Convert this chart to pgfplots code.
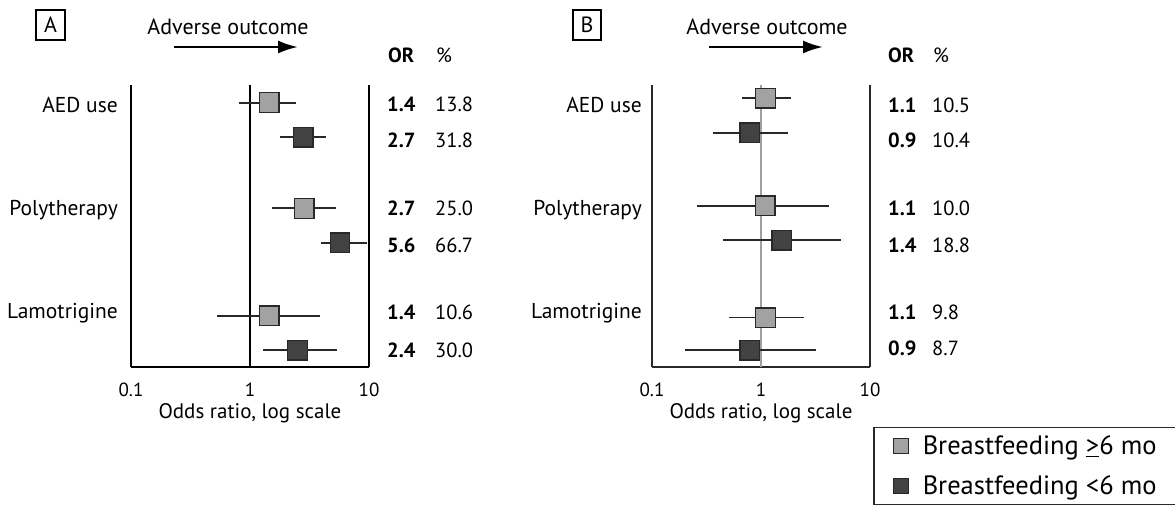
\documentclass[border=0pt]{standalone}
\usepackage{pgfplots}
\pgfplotsset{compat=1.18}
\usepackage{pgfplotstable}
\usepackage{fontspec}
\setmainfont{PT Sans}
\usetikzlibrary{arrows.meta}
\definecolor{lightsq}{RGB}{162,162,162}
\definecolor{darksq}{RGB}{66,66,66}
\definecolor{edge}{RGB}{40,40,40}

% Panel A: row position, odds ratio, lower and upper CI
\pgfplotstableread{
y      or    lo    hi
0      1.45  0.81  2.44
-3.0   2.85  1.53  5.3
-6.05  1.45  0.53  3.87
}\Alight
\pgfplotstableread{
y      or    lo    hi
-0.98  2.8   1.79  4.35
-3.98  5.7   3.96  9.6
-7.02  2.5   1.29  5.4
}\Adark
% Panel B
\pgfplotstableread{
y      or    lo    hi
0.13   1.1   0.67  1.88
-2.93  1.09  0.26  4.2
-6.1   1.1   0.51  2.48
}\Blight
\pgfplotstableread{
y      or    lo    hi
-0.86  0.79  0.36  1.77
-3.9   1.55  0.45  5.4
-7.02  0.79  0.20  3.2
}\Bdark

\begin{document}
\begin{tikzpicture}
\useasboundingbox (0pt,0pt) rectangle (1175pt,-517pt);

% ---------------- Panel A ----------------
\begin{axis}[scale only axis, width=238pt, height=282pt, at={(131pt,-367pt)}, anchor=south west,
    xmode=log, xmin=0.1, xmax=10, ymin=-7.5, ymax=0.5,
    axis x line*=bottom, axis y line=none,
    xtick={0.1,1,10}, xticklabels={0.1,1,10}, xminorticks=false,
    ytick=\empty, major tick length=0pt,
    /pgf/number format/assume math mode=true,
    xticklabel style={font=\fontsize{19}{22}\selectfont, anchor=center, yshift=-23pt},
    xlabel={Odds ratio, log scale},
    xlabel style={font=\fontsize{21}{24}\selectfont, at={(axis description cs:0.5,-0.163)}, anchor=center},
    clip=false,
    x axis line style={line width=2.2pt, black}]
\draw[line width=2.2pt, black] (rel axis cs:0,0) -- (rel axis cs:0,1);
\draw[line width=2.2pt, black] (rel axis cs:1,0) -- (rel axis cs:1,1);
\draw[line width=2pt, black] (axis cs:1,-7.5) -- (axis cs:1,0.5);
\addplot[only marks, mark=none, forget plot, error bars/x dir=both, error bars/x explicit, error bars/error mark=none, error bars/error bar style={line width=1.9pt, draw=edge, solid}]
  table[x=or, y=y, x error plus expr=\thisrow{hi}-\thisrow{or}, x error minus expr=\thisrow{or}-\thisrow{lo}] {\Alight};
\addplot[only marks, mark=none, forget plot, error bars/x dir=both, error bars/x explicit, error bars/error mark=none, error bars/error bar style={line width=1.9pt, draw=edge, solid}]
  table[x=or, y=y, x error plus expr=\thisrow{hi}-\thisrow{or}, x error minus expr=\thisrow{or}-\thisrow{lo}] {\Adark};
\addplot[only marks, mark=square*, mark size=9.8pt, draw=edge, line width=1.3pt, fill=lightsq] table[x=or, y=y] {\Alight};
\addplot[only marks, mark=square*, mark size=9.8pt, draw=edge, line width=1.3pt, fill=darksq] table[x=or, y=y] {\Adark};
\end{axis}

% ---------------- Panel B ----------------
\begin{axis}[scale only axis, width=218pt, height=282pt, at={(652pt,-367pt)}, anchor=south west,
    xmode=log, xmin=0.1, xmax=10, ymin=-7.5, ymax=0.5,
    axis x line*=bottom, axis y line=none,
    xtick={0.1,1,10}, xticklabels={0.1,1,10}, xminorticks=false,
    ytick=\empty, major tick length=0pt,
    /pgf/number format/assume math mode=true,
    xticklabel style={font=\fontsize{19}{22}\selectfont, anchor=center, yshift=-23pt},
    xlabel={Odds ratio, log scale},
    xlabel style={font=\fontsize{21}{24}\selectfont, at={(axis description cs:0.5,-0.163)}, anchor=center},
    clip=false,
    x axis line style={line width=2pt, edge},
    legend style={at={(1.0138,-0.2127)}, anchor=north west, draw=edge, line width=1.5pt,
      font=\fontsize{26.5}{29}\selectfont, cells={anchor=west}, inner xsep=20pt, inner ysep=6pt, row sep=16pt,
      /tikz/column 1/.style={column sep=12pt}},
    every legend image post/.style={mark size=7.5pt, line width=1.3pt}]
\draw[line width=2pt, edge] (rel axis cs:0,0) -- (rel axis cs:0,1);
\draw[line width=2pt, edge] (rel axis cs:1,0) -- (rel axis cs:1,1);
\draw[line width=1.4pt, gray!75] (axis cs:1,-7.5) -- (axis cs:1,0.5);
\addplot[only marks, mark=none, forget plot, error bars/x dir=both, error bars/x explicit, error bars/error mark=none, error bars/error bar style={line width=1.6pt, draw=edge, solid}]
  table[x=or, y=y, x error plus expr=\thisrow{hi}-\thisrow{or}, x error minus expr=\thisrow{or}-\thisrow{lo}] {\Blight};
\addplot[only marks, mark=none, forget plot, error bars/x dir=both, error bars/x explicit, error bars/error mark=none, error bars/error bar style={line width=1.6pt, draw=edge, solid}]
  table[x=or, y=y, x error plus expr=\thisrow{hi}-\thisrow{or}, x error minus expr=\thisrow{or}-\thisrow{lo}] {\Bdark};
\addplot[only marks, mark=square*, mark size=9.8pt, draw=edge, line width=1.3pt, fill=lightsq] table[x=or, y=y] {\Blight};
\addlegendentry{Breastfeeding \underline{>}6 mo\hspace*{20pt}}
\addplot[only marks, mark=square*, mark size=9.8pt, draw=edge, line width=1.3pt, fill=darksq] table[x=or, y=y] {\Bdark};
\addlegendentry{Breastfeeding <6 mo}
\end{axis}

% ---------------- Annotations ----------------
\tikzset{lab/.style={font=\fontsize{21.5}{24}\selectfont, anchor=east, inner sep=0pt},
         num/.style={font=\fontsize{20.5}{23}\selectfont, anchor=west, inner sep=0pt},
         bnum/.style={font=\fontsize{20.5}{23}\selectfont\bfseries, anchor=west, inner sep=0pt}}

% panel letters
\draw[line width=1.6pt, black] (36pt,-10pt) rectangle (65pt,-40pt);
\node[font=\fontsize{22}{24}\selectfont] at (50.5pt,-25pt) {A};
\draw[line width=1.6pt, black] (573pt,-10pt) rectangle (601pt,-40pt);
\node[font=\fontsize{22}{24}\selectfont] at (587pt,-25pt) {B};

% adverse outcome arrows
\node[font=\fontsize{22}{24}\selectfont] at (228pt,-27pt) {Adverse outcome};
\draw[line width=2.4pt, -{Latex[length=20pt,width=13pt]}] (174pt,-47pt) -- (298pt,-47pt);
\node[font=\fontsize{22}{24}\selectfont] at (767pt,-27pt) {Adverse outcome};
\draw[line width=2.4pt, -{Latex[length=20pt,width=13pt]}] (709pt,-47pt) -- (823pt,-47pt);

% row labels
\node[lab] at (118pt,-105pt) {AED use};
\node[lab] at (118pt,-210pt) {Polytherapy};
\node[lab] at (118pt,-313pt) {Lamotrigine};
\node[lab] at (642pt,-105pt) {AED use};
\node[lab] at (642pt,-210pt) {Polytherapy};
\node[lab] at (642pt,-313pt) {Lamotrigine};

% headers
\node[bnum] at (388pt,-55pt) {OR};
\node[num] at (436pt,-55pt) {\%};
\node[bnum] at (888pt,-55pt) {OR};
\node[num] at (933pt,-55pt) {\%};

% OR and % columns, panel A
\node[bnum] at (387pt,-104pt) {1.4};  \node[num] at (435pt,-104pt) {13.8};
\node[bnum] at (387pt,-140pt) {2.7};  \node[num] at (435pt,-140pt) {31.8};
\node[bnum] at (387pt,-208pt) {2.7};  \node[num] at (435pt,-208pt) {25.0};
\node[bnum] at (387pt,-245pt) {5.6};  \node[num] at (435pt,-245pt) {66.7};
\node[bnum] at (387pt,-312pt) {1.4};  \node[num] at (435pt,-312pt) {10.6};
\node[bnum] at (387pt,-350pt) {2.4};  \node[num] at (435pt,-350pt) {30.0};
% panel B
\node[bnum] at (888pt,-105pt) {1.1};  \node[num] at (932pt,-105pt) {10.5};
\node[bnum] at (888pt,-140pt) {0.9};  \node[num] at (932pt,-140pt) {10.4};
\node[bnum] at (888pt,-208pt) {1.1};  \node[num] at (932pt,-208pt) {10.0};
\node[bnum] at (888pt,-245pt) {1.4};  \node[num] at (932pt,-245pt) {18.8};
\node[bnum] at (888pt,-312pt) {1.1};  \node[num] at (932pt,-312pt) {9.8};
\node[bnum] at (888pt,-348pt) {0.9};  \node[num] at (932pt,-348pt) {8.7};
\end{tikzpicture}
\end{document}
